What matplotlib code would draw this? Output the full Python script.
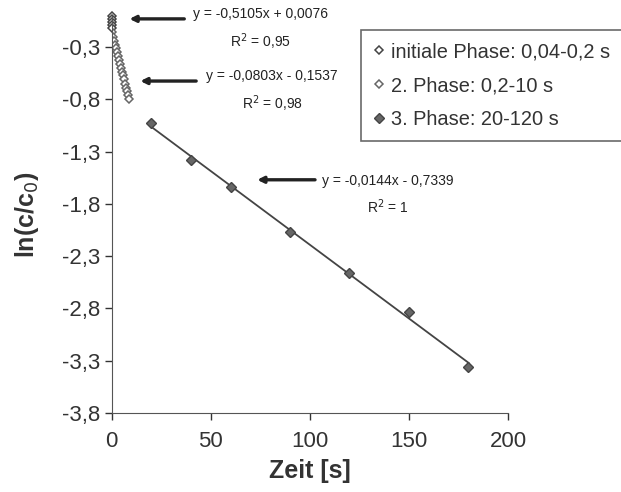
import matplotlib.pyplot as plt
import numpy as np

# initiale Phase (0,04-0,2 s)
t_init = [0.04, 0.08, 0.12, 0.16, 0.2]
y_init = [0.0, -0.03, -0.06, -0.09, -0.12]

# 2. Phase (0,2-10 s)
t_p2 = [0.2, 0.6, 1.1, 1.6, 2.1, 2.6, 3.1, 3.6, 4.1, 4.6, 5.1, 5.6, 6.1, 6.6, 7.1, 7.6, 8.1, 8.6]
y_p2 = [-0.16, -0.20, -0.24, -0.28, -0.31, -0.35, -0.39, -0.42, -0.46,
        -0.50, -0.54, -0.57, -0.61, -0.65, -0.69, -0.72, -0.76, -0.80]

# 3. Phase (20-120 s)
t_p3 = [20, 40, 60, 90, 120, 150, 180]
y_p3 = [-1.03, -1.38, -1.64, -2.07, -2.46, -2.84, -3.36]

fit_labels = ["y = -0,5105x + 0,0076\nR$^2$ = 0,95",
              "y = -0,0803x - 0,1537\nR$^2$ = 0,98",
              "y = -0,0144x - 0,7339\nR$^2$ = 1"]

plt.rcParams['font.family'] = ['Liberation Sans', 'DejaVu Sans']

fig = plt.figure(figsize=(6.21, 4.92), dpi=100)
ax = fig.add_axes([0.180, 0.161, 0.638, 0.807])

grey = '#444444'
ax.plot(t_init, y_init, linestyle='none', marker='D', markersize=4.5,
        markerfacecolor='white', markeredgecolor=grey, markeredgewidth=1.1,
        label='initiale Phase: 0,04-0,2 s', clip_on=False)
ax.plot(t_p2, y_p2, linestyle='none', marker='D', markersize=4.5,
        markerfacecolor='white', markeredgecolor='#666666', markeredgewidth=1.1,
        label='2. Phase: 0,2-10 s')
ax.plot(t_p3, y_p3, linestyle='none', marker='D', markersize=5,
        markerfacecolor='#666666', markeredgecolor=grey, markeredgewidth=1,
        label='3. Phase: 20-120 s', zorder=3)

# linear trend line for phase 3
k, d = np.polyfit(t_p3, y_p3, 1)
xs = np.array([t_p3[0], t_p3[-1]])
ax.plot(xs, k * xs + d, color=grey, linewidth=1.3, zorder=2)

# arrows + equations
arrow_kw = dict(arrowstyle='-|>', color='#222222', lw=2.4, mutation_scale=9)
ax.annotate('', xy=(7.5, -0.03), xytext=(38, -0.03), arrowprops=arrow_kw)
ax.annotate('', xy=(13, -0.625), xytext=(44, -0.625), arrowprops=arrow_kw)
ax.annotate('', xy=(72, -1.57), xytext=(104, -1.57), arrowprops=arrow_kw)
eq_kw = dict(fontsize=10, ha='center', va='center', linespacing=1.65, color='#222222')
ax.text(75, -0.13, fit_labels[0], **eq_kw)
ax.text(81, -0.725, fit_labels[1], **eq_kw)
ax.text(139.5, -1.715, fit_labels[2], **eq_kw)

ax.set_xlim(0, 200)
ax.set_ylim(-3.8, 0)
ax.set_xticks([0, 50, 100, 150, 200])
yt = np.arange(-3.8, -0.29, 0.5)
ax.set_yticks(yt)
ax.set_yticklabels([f"{v:.1f}".replace('.', ',') for v in yt])
ax.tick_params(labelsize=16, colors='#333333', direction='out', length=5, width=1)
ax.tick_params(axis='x', pad=8)
for s in ['top', 'right']:
    ax.spines[s].set_visible(False)
for s in ['left', 'bottom']:
    ax.spines[s].set_color('#555555')

ax.set_xlabel('Zeit [s]', fontsize=18, fontweight='bold', color='#333333', labelpad=5)
ax.set_ylabel('ln(c/c$_0$)', fontsize=18, fontweight='bold', color='#333333', labelpad=15)

leg = ax.legend(loc='upper left', bbox_to_anchor=(361 / 621, 1 - 30 / 492),
                bbox_transform=fig.transFigure, fontsize=14.4, frameon=True,
                fancybox=False, edgecolor='#444444', handlelength=0.6,
                handletextpad=0.3, borderpad=0.6, labelspacing=0.75,
                borderaxespad=0)
leg.get_frame().set_linewidth(1.2)
for t in leg.get_texts():
    t.set_color('#333333')

fig.savefig('out.png', dpi=100)
